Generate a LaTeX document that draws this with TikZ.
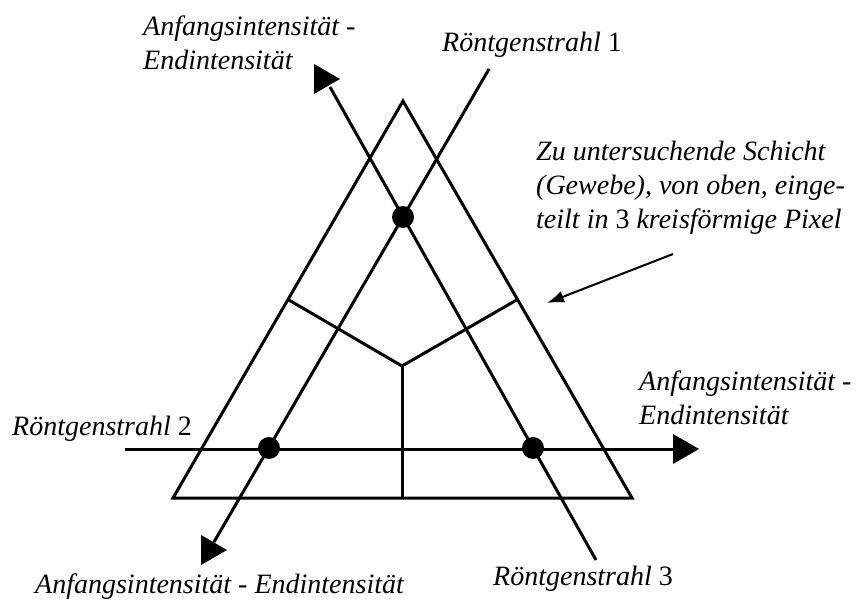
\documentclass[tikz,border=0pt]{standalone}
\usepackage{fontspec}
\setmainfont{Liberation Serif}
\usetikzlibrary{arrows.meta,calc}
\tikzset{
  ray/.style={line width=3pt},
  dot/.style={circle,fill=black,inner sep=0pt,minimum size=22pt},
  lbl/.style={font=\fontsize{28}{34}\selectfont\itshape,inner sep=0pt,align=left},
  rtip/.pic={\fill (-13,15) -- (13,0) -- (-13,-15) -- cycle;}
}
\begin{document}
\begin{tikzpicture}[x=1pt,y=-1pt]
      \useasboundingbox (0,0) rectangle (860,607);
      \coordinate (A) at (403,101);
      \coordinate (B) at (173,498);
      \coordinate (C) at (632,498);
      \coordinate (Z) at (402,366);
      \draw[ray,line join=miter] (A) -- (B) -- (C) -- cycle;
      \draw[ray] ($(A)!0.5!(B)$) -- (Z) -- ($(A)!0.5!(C)$);
      \draw[ray] (Z) -- (Z |- B);
      \coordinate (r1a) at (489,69);
      \coordinate (r1b) at (214,542);
      \coordinate (r2a) at (125,449);
      \coordinate (r2b) at (675,449);
      \coordinate (r3a) at (596,560);
      \coordinate (r3b) at (330,87);
      \draw[ray] (r1a) -- (r1b);
      \draw[ray] (r2a) -- (r2b);
      \draw[ray] (r3a) -- (r3b);
      \pic at (327,79) {rtip};
      \pic at (214,550) {rtip};
      \pic at (686,449) {rtip};
      \node[dot] (d1) at (403,217) {};
      \node[dot] (d2) at (269,448) {};
      \node[dot] (d3) at (533,448) {};
      \coordinate (p0) at (673,254);
      \coordinate (p1) at (547,303);
      \draw[line width=2pt,-{Latex[length=17pt,width=12pt]}] (p0) -- (p1);
      \node[lbl,anchor=base west] (out1) at (143,70) {Anfangsintensität -\\Endintensität};
      \node[lbl,anchor=base west] (ray1) at (442,52) {Röntgenstrahl \textup{1}};
      \node[lbl,anchor=base west] (layer) at (536,228) {Zu untersuchende Schicht\\(Gewebe), von oben, einge-\\teilt in \textup{3} kreisförmige Pixel};
      \node[lbl,anchor=base west] (out2) at (639,424) {Anfangsintensität -\\Endintensität};
      \node[lbl,anchor=base west] (ray2) at (12,435) {Röntgenstrahl \textup{2}};
      \node[lbl,anchor=base west] (ray3) at (493,585) {Röntgenstrahl \textup{3}};
      \node[lbl,anchor=base west] (out3) at (35,593) {Anfangsintensität - Endintensität};
    \end{tikzpicture}
\end{document}
